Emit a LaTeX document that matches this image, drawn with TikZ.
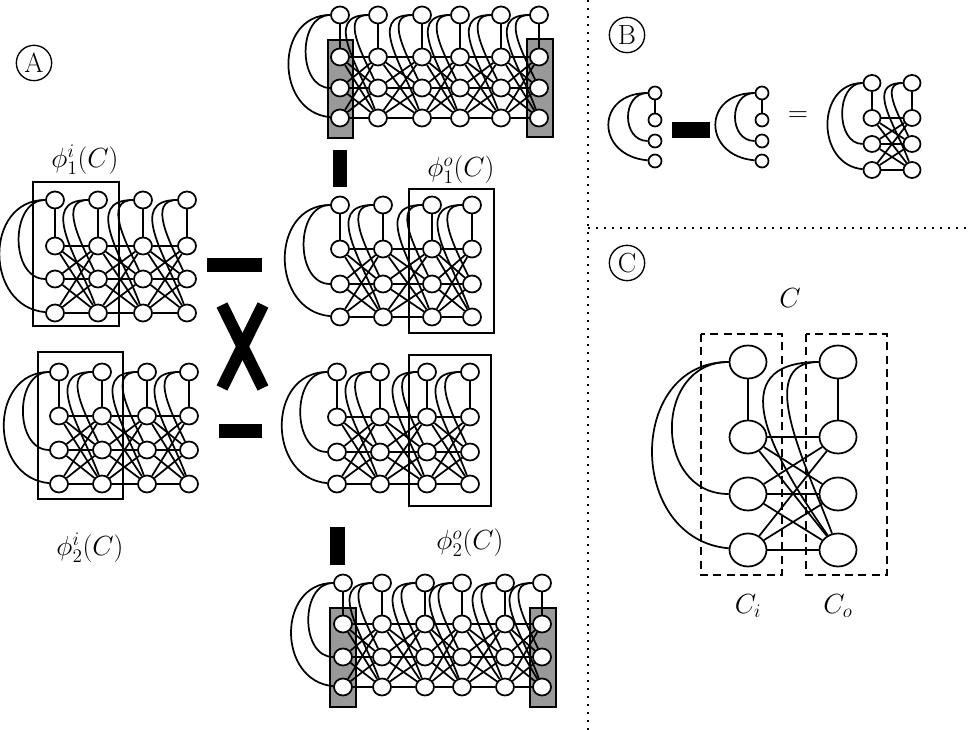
\documentclass[tikz,border=0pt]{standalone}
\usepackage{amsmath, amssymb}
\usepackage{tikz}
\usetikzlibrary{shapes.geometric}

\tikzset{
  vtx/.style={ellipse, draw, fill=white, inner sep=0pt, minimum width=13.5pt, minimum height=12.75pt},
  smallvtx/.style={vtx, minimum width=12.75pt, minimum height=12pt},
  tinyvtx/.style={circle, draw, fill=white, inner sep=0pt, minimum size=9.75pt},
  bigvtx/.style={vtx, minimum width=27.75pt, minimum height=24.75pt},
  panel/.style={circle, draw, line width=1pt, inner sep=0pt, minimum size=26.5pt, font=\huge},
  greybox/.style={draw, fill=black!40},
  cutbox/.style={draw, dash pattern=on 6pt off 4pt},
  lbl/.style={font=\huge},
  divider/.style={line width=1.3pt, dash pattern=on 1.3pt off 4.7pt},
}

% columns of four vertices, joined column to column
\newcommand{\layergraph}[7][vtx]{%
  \foreach \cx [count=\j] in {#3} {
    \node[#1] (#2t\j) at (\cx,#4) {};
    \node[#1] (#2a\j) at (\cx,#5) {};
    \node[#1] (#2b\j) at (\cx,#6) {};
    \node[#1] (#2c\j) at (\cx,#7) {};
  }
  \foreach \cx [count=\j] in {#3} {
    \pgfmathtruncatemacro{\i}{\j-1}
    \draw (#2t\j) -- (#2a\j);
    \ifnum\j=1\relax
      \draw (#2t\j) to[out=180,in=180,looseness=1.15] (#2b\j);
      \draw (#2t\j) to[out=180,in=175,looseness=1.4] (#2c\j);
    \else
      \draw (#2t\j) to[out=180,in=115,looseness=1.1] (#2b\j);
      \draw (#2t\j) to[out=180,in=110,looseness=1.25] (#2c\j);
      \foreach \u in {a,b,c}
        \foreach \v in {a,b,c}
          \draw (#2\u\i) -- (#2\v\j);
    \fi
  }%
}

\begin{document}
\begin{tikzpicture}[x=0.75pt,y=0.75pt,line width=1.3pt]
    \useasboundingbox (0,0) rectangle (970,730);

    %Dividers
    \draw[divider] (588,730) -- (588,0);
    \draw[divider] (588,502) -- (970,502);

    % Text Node
    \node[panel] (pa) at (34,667) {A};
    \node[panel] (pb) at (627,695) {B};
    \node[panel] (pc) at (627,467) {C};

    %Shape: grey boxes
    \draw[greybox] (328,690) rectangle (353,592);
    \draw[greybox] (527,691) rectangle (553,593);
    \draw[greybox] (330,122) rectangle (356,23);
    \draw[greybox] (530,122) rectangle (556,23);

    %Graphs of panel A
    \layergraph{lt}{55,98,143,187}{530}{484}{451}{417}
    \layergraph{lb}{59,102,147,189}{358}{314}{280}{246}
    \layergraph{rt}{340,378,422,460,501,539}{715}{673}{642}{612}
    \layergraph{rma}{340,383,432,472}{525}{481}{446}{413}
    \layergraph{rmb}{337,380,427,470}{358}{313}{278}{246}
    \layergraph{rb}{343,382,425,462,505,542}{147}{106}{73}{43}

    %Shape: Rectangles
    \draw (33,548) rectangle (119,404);
    \draw (38,378) rectangle (123,231);
    \draw (409,541) rectangle (494,397);
    \draw (409,375) rectangle (491,224);

    %Shape: black bars
    \fill (207,472) rectangle (262,458);
    \fill (219,306) rectangle (262,292);
    \draw[line width=9pt] (222,425) -- (263,342);
    \draw[line width=9pt] (263,425) -- (222,342);
    \fill (333,580) rectangle (347,543);
    \fill (330,203) rectangle (345,165);

    % Text Node
    \node[lbl] (phi1i) at (85,570) {$\phi^i_1(C)$};
    \node[lbl] (phi2i) at (90,182) {$\phi^i_2(C)$};
    \node[lbl] (phi1o) at (461,560) {$\phi^o_1(C)$};
    \node[lbl] (phi2o) at (470,187) {$\phi^o_2(C)$};

    %Panel B: factors
    \node[tinyvtx] (fa1) at (655,637) {};
    \node[tinyvtx] (fa2) at (655,610) {};
    \node[tinyvtx] (fa3) at (655,589) {};
    \node[tinyvtx] (fa4) at (655,569) {};
    \draw (fa1) -- (fa2);
    \draw (fa1) to[out=180,in=180,looseness=1.4] (fa3);
    \draw (fa1) to[out=180,in=175,looseness=2] (fa4);
    \fill (672,608) rectangle (710,592);
    \node[tinyvtx] (fb1) at (762,637) {};
    \node[tinyvtx] (fb2) at (762,610) {};
    \node[tinyvtx] (fb3) at (762,589) {};
    \node[tinyvtx] (fb4) at (762,569) {};
    \draw (fb1) -- (fb2);
    \draw (fb1) to[out=180,in=180,looseness=1.4] (fb3);
    \draw (fb1) to[out=180,in=175,looseness=2] (fb4);
    \node[lbl] (eq) at (798,613) {$=$};
    \layergraph[smallvtx]{bp}{872,912}{647}{612}{586}{560}

    %Panel C
    \draw[cutbox] (701,396) rectangle (782,155);
    \draw[cutbox] (806,396) rectangle (887,155);
    \node[bigvtx] (ci1) at (748,368) {};
    \node[bigvtx] (ci2) at (748,293) {};
    \node[bigvtx] (ci3) at (748,236) {};
    \node[bigvtx] (ci4) at (748,180) {};
    \node[bigvtx] (co1) at (838,368) {};
    \node[bigvtx] (co2) at (838,293) {};
    \node[bigvtx] (co3) at (838,236) {};
    \node[bigvtx] (co4) at (838,180) {};
    \draw (ci1) -- (ci2);
    \draw (co1) -- (co2);
    \draw (ci1) to[out=180,in=180,looseness=1.47] (ci3);
    \draw (ci1) to[out=180,in=175,looseness=1.41] (ci4);
    \draw (co1) to[out=180,in=125,looseness=1.45] (co4);
    \draw (co1) to[out=180,in=110,looseness=1.0] (co4);
    \foreach \u in {2,3,4}
      \foreach \v in {2,3,4}
        \draw (ci\u) -- (co\v);

    % Text Node
    \node[lbl] (lc) at (790,432) {$C$};
    \node[lbl] (lci) at (748,124) {$C_i$};
    \node[lbl] (lco) at (838,124) {$C_o$};
\end{tikzpicture}
\end{document}
